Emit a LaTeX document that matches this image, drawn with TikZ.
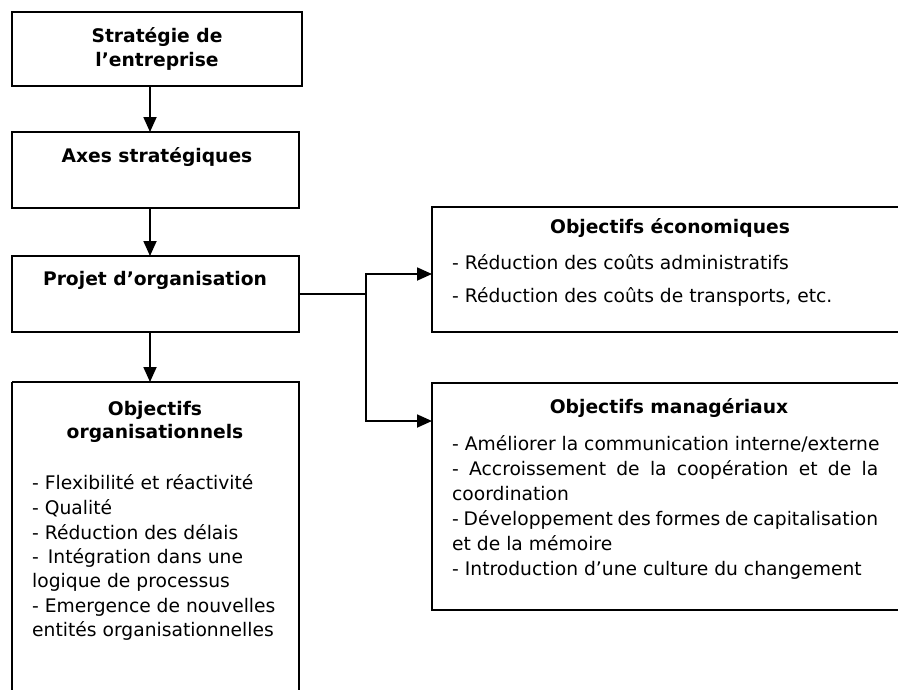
\documentclass[tikz,border=0pt]{standalone}
\usepackage{fontspec}
\setmainfont{DejaVu Sans}
\usetikzlibrary{arrows.meta}
\begin{document}
\begin{tikzpicture}[x=1pt,y=-1pt,
  box/.style={draw=black,line width=2pt,fill=none},
  conn/.style={draw=black,line width=1.8pt},
  arr/.style={conn,-{Triangle[length=15pt,width=13pt]}},
  ttl/.style={font=\fontsize{18.7}{25}\selectfont\bfseries,align=center,inner sep=0pt},
  itm/.style={font=\fontsize{18.7}{25}\selectfont,anchor=mid west,inner sep=0pt}]
\clip (0,0) rectangle (898,689);
\fill[white] (0,0) rectangle (898,689);
% boxes
\draw[box] (12,12) rectangle (302,86);
\node (strat) at (157,49) {};
\draw[box] (12,132) rectangle (299,208);
\node (axes) at (155,170) {};
\draw[box,line width=2.4pt] (12,256) rectangle (299,332);
\node (proj) at (155,294) {};
\draw[box] (12,382) -- (12,700) (12,382) -- (299,382) -- (299,700);
\draw[box] (432,207) rectangle (920,332);
\draw[box] (432,383) rectangle (920,610);
% named anchor coordinates
\coordinate (s1) at (150,86);
\coordinate (a0) at (150,132);
\coordinate (a1) at (150,208);
\coordinate (p0) at (150,256);
\coordinate (p1) at (150,332);
\coordinate (o0) at (150,382);
\coordinate (pe) at (299,294);
\coordinate (j) at (366,294);
\coordinate (ew) at (432,274);
\coordinate (mw) at (432,421);
% texts
\node[ttl] (t1) at (157,37.5) {Stratégie de};
\node[ttl] (t1b) at (157,61.5) {l’entreprise};
\node[ttl] (t2) at (157,157) {Axes stratégiques};
\node[ttl] (t3) at (155,280) {Projet d’organisation};
\node[ttl] (t4) at (155,410) {Objectifs};
\node[ttl] (t4b) at (155,433) {organisationnels};
\node[itm] (o1) at (32,487) {- Flexibilité et réactivité};
\node[itm] (o2) at (32,512) {- Qualité};
\node[itm] (o3) at (32,537) {- Réduction des délais};
\node[itm] (o4) at (32,561) {-\hspace{9pt}Intégration dans une};
\node[itm] (o5) at (32,585) {logique de processus};
\node[itm] (o6) at (32,610) {- Emergence de nouvelles};
\node[itm] (o7) at (32,634) {entités organisationnelles};
\node[ttl] (t5) at (670,228) {Objectifs économiques};
\node[itm] (e1) at (452,267) {- Réduction des coûts administratifs};
\node[itm] (e2) at (452,300) {- Réduction des coûts de transports, etc.};
\node[ttl] (t6) at (669,408) {Objectifs managériaux};
\node[itm] (m1) at (452,448) {- Améliorer la communication interne/externe};
\node[itm] (m2) at (452,473) {\makebox[426pt][s]{- Accroissement de la coopération et de la}};
\node[itm] (m3) at (452,498) {coordination};
\node[itm] (m4) at (452,523) {\makebox[426pt][s]{- Développement des formes de capitalisation}};
\node[itm] (m5) at (452,548) {et de la mémoire};
\node[itm] (m6) at (452,573) {- Introduction d’une culture du changement};
% connectors
\draw[arr] (s1) -- (a0);
\draw[arr] (a1) -- (p0);
\draw[arr] (p1) -- (o0);
\draw[conn] (pe) -- (j);
\draw[arr] (j) |- (ew);
\draw[arr] (j) |- (mw);
\end{tikzpicture}
\end{document}
